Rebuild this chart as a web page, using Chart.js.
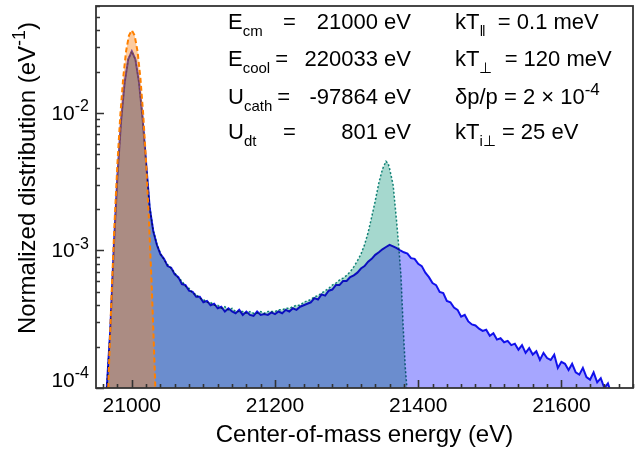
<!DOCTYPE html>
<html>
<head>
<meta charset="utf-8">
<script src="https://cdn.jsdelivr.net/npm/chart.js@4.4.1/dist/chart.umd.min.js"></script>
<style>
html, body { margin: 0; padding: 0; background: #fff; }
#wrap { position: relative; width: 636px; height: 451px; }
</style>
</head>
<body>
<div id="wrap"><canvas id="chart" width="636" height="451"></canvas></div>
<script>
const FONT = "'Liberation Sans', Arial, sans-serif";

const xTicks = [21000, 21200, 21400, 21600];
const yTicks = [1e-4, 1e-3, 1e-2];
const yTickExp = ['-4', '-3', '-2'];

// narrow reference peak (dashed orange)
const orangeEnergy = [20964, 20968, 20972, 20976, 20980, 20984, 20988, 20992, 20996, 21000,
    21004, 21008, 21012, 21016, 21020, 21024, 21028, 21032, 21036];
const orangeValue = [0.00003, 0.000138, 0.00052, 0.00164, 0.00436, 0.0097, 0.018, 0.0281, 0.0366, 0.040,
    0.0366, 0.0281, 0.018, 0.0097, 0.00436, 0.00164, 0.00052, 0.000138, 0.00003];

// model with sharp second peak (dotted teal)
const tealEnergy = [20965, 20970, 20975, 20980, 20985, 20990, 20995, 21000, 21005, 21010,
    21015, 21020, 21025, 21030, 21035, 21040, 21045, 21050, 21055, 21060,
    21065, 21070, 21075, 21080, 21085, 21090, 21095, 21100, 21105, 21110,
    21115, 21120, 21125, 21130, 21135, 21140, 21145, 21150, 21155, 21160,
    21165, 21170, 21175, 21180, 21185, 21190, 21195, 21200, 21205, 21210,
    21215, 21220, 21225, 21230, 21235, 21240, 21245, 21250, 21255, 21260,
    21265, 21270, 21275, 21280, 21285, 21290, 21295, 21300, 21305, 21310,
    21315, 21320, 21325, 21330, 21335, 21340, 21345, 21350, 21355, 21358,
    21360, 21365, 21370, 21373, 21376, 21379, 21382, 21385];
const tealValue = [0.0001, 0.00027, 0.00108, 0.0035, 0.0087, 0.0166, 0.0246, 0.0281, 0.0246, 0.0168,
    0.0092, 0.0043, 0.00208, 0.0014, 0.00112, 0.00095, 0.00086, 0.00079, 0.00074, 0.00069,
    0.00063, 0.0006, 0.00055, 0.00053, 0.00049, 0.00048, 0.00045, 0.00044, 0.00042, 0.00042,
    0.0004, 0.0004, 0.00038, 0.00039, 0.00037, 0.00038, 0.00036, 0.00036, 0.00036, 0.00035,
    0.00036, 0.00035, 0.00035, 0.00036, 0.00035, 0.00036, 0.00036, 0.00036, 0.00037, 0.00037,
    0.00038, 0.00038, 0.00039, 0.0004, 0.0004, 0.00042, 0.00043, 0.00044, 0.00046, 0.00047,
    0.00049, 0.00051, 0.00053, 0.00056, 0.00058, 0.00061, 0.00063, 0.00066, 0.0007, 0.00076,
    0.00084, 0.00094, 0.0011, 0.00135, 0.00175, 0.0023, 0.0031, 0.0039, 0.00445, 0.0043,
    0.00395, 0.003, 0.0016, 0.00105, 0.00065, 0.00028, 0.00014, 0.00009];

// simulated distribution (solid blue)
const blueEnergy = [20965, 20970, 20975, 20980, 20985, 20990, 20995, 21000, 21005, 21010,
    21015, 21020, 21025, 21030, 21035, 21040, 21045, 21050, 21055, 21060,
    21065, 21070, 21075, 21080, 21085, 21090, 21095, 21100, 21105, 21110,
    21115, 21120, 21125, 21130, 21135, 21140, 21145, 21150, 21155, 21160,
    21165, 21170, 21175, 21180, 21185, 21190, 21195, 21200, 21205, 21210,
    21215, 21220, 21225, 21230, 21235, 21240, 21245, 21250, 21255, 21260,
    21265, 21270, 21275, 21280, 21285, 21290, 21295, 21300, 21305, 21310,
    21315, 21320, 21325, 21330, 21335, 21340, 21345, 21350, 21355, 21360,
    21365, 21370, 21375, 21380, 21385, 21390, 21395, 21400, 21405, 21410,
    21415, 21420, 21425, 21430, 21435, 21440, 21445, 21450, 21455, 21460,
    21465, 21470, 21475, 21480, 21485, 21490, 21495, 21500, 21505, 21510,
    21515, 21520, 21525, 21530, 21535, 21540, 21545, 21550, 21555, 21560,
    21565, 21570, 21575, 21580, 21585, 21590, 21595, 21600, 21605, 21610,
    21615, 21620, 21625, 21630, 21635, 21640, 21645, 21650, 21655, 21660,
    21665, 21670];
const blueValue = [0.0001, 0.00027, 0.00108, 0.0035, 0.0087, 0.0166, 0.0246, 0.0281, 0.0246, 0.0168,
    0.0092, 0.0043, 0.00205, 0.00138, 0.0011, 0.00094, 0.00087, 0.00077, 0.00075, 0.00067,
    0.00064, 0.00057, 0.00056, 0.00051, 0.0005, 0.00046, 0.00046, 0.00042, 0.00043, 0.0004,
    0.00041, 0.00038, 0.00039, 0.00036, 0.00038, 0.00036, 0.00035, 0.00037, 0.00034, 0.00036,
    0.00034, 0.000335, 0.00036, 0.00034, 0.000345, 0.00034, 0.000355, 0.000345, 0.00036, 0.00035,
    0.00037, 0.00036, 0.00038, 0.00037, 0.00039, 0.0004, 0.00041, 0.00042, 0.00045, 0.00044,
    0.00048, 0.00047, 0.00051, 0.00052, 0.00056, 0.00056, 0.0006, 0.0006, 0.00064, 0.00066,
    0.00069, 0.00074, 0.00077, 0.00083, 0.00087, 0.00093, 0.00097, 0.00102, 0.00106, 0.0011,
    0.00107, 0.00104, 0.001, 0.00097, 0.00095, 0.00088, 0.00087, 0.0008, 0.00077, 0.00069,
    0.00064, 0.00058, 0.00056, 0.0005, 0.00049, 0.00043, 0.00042, 0.000385, 0.00037, 0.00033,
    0.00034, 0.000305, 0.00029, 0.000285, 0.00027, 0.00026, 0.000265, 0.00024, 0.00025, 0.000225,
    0.00023, 0.000215, 0.00022, 0.000205, 0.00021, 0.00019, 0.000205, 0.00018, 0.000195, 0.000175,
    0.000185, 0.00016, 0.00018, 0.000165, 0.00016, 0.000175, 0.00014, 0.000155, 0.00015, 0.000135,
    0.00015, 0.00013, 0.000125, 0.00014, 0.00012, 0.000115, 0.00013, 0.00011, 0.000118, 0.0001,
    0.000108, 0.00009];

// parameter box, [text, 'sub' | 'sup' | '']
const leftNotes = [
    { label: [['E', ''], ['cm', 'sub']], eq: 'fixed', value: '21000 eV' },
    { label: [['E', ''], ['cool', 'sub']], eq: 'after', value: '220033 eV' },
    { label: [['U', ''], ['cath', 'sub']], eq: 'after', value: '-97864 eV' },
    { label: [['U', ''], ['dt', 'sub']], eq: 'fixed', value: '801 eV' },
];
const rightNotes = [
    [['kT', ''], ['\u2016', 'sub'], ['  = 0.1 meV', '']],
    [['kT', ''], ['\u22A5', 'sub'], ['  = 120 meV', '']],
    [['\u03B4p/p = 2 \u00D7 10', ''], ['-4', 'sup']],
    [['kT', ''], ['i\u22A5', 'sub'], [' = 25 eV', '']],
];
const noteBaselines = [29, 66, 104, 139];

function points(xs, ys) {
    return xs.map((x, i) => ({ x, y: ys[i] }));
}

function partSize(mode, size) {
    if (mode === 'sub') return Math.round(size * 0.7);
    if (mode === 'sup') return Math.round(size * 0.75);
    return size;
}

function richText(ctx, x, y, parts, size) {
    for (const [t, mode] of parts) {
        const dy = mode === 'sub' ? size * 0.3 : mode === 'sup' ? -size * 0.42 : 0;
        ctx.font = `${partSize(mode, size)}px ${FONT}`;
        ctx.fillText(t, x, y + dy);
        x += ctx.measureText(t).width;
    }
    return x;
}

function richWidth(ctx, parts, size) {
    let w = 0;
    for (const [t, mode] of parts) {
        ctx.font = `${partSize(mode, size)}px ${FONT}`;
        w += ctx.measureText(t).width;
    }
    return w;
}

const frameAndTicks = {
    id: 'frameAndTicks',
    beforeDraw(chart) {
        const ctx = chart.ctx;
        ctx.save();
        ctx.fillStyle = '#fff';
        ctx.fillRect(0, 0, chart.width, chart.height);
        ctx.restore();
    },
    beforeDatasetsDraw(chart) {
        // blue and teal fills blend where they overlap
        chart.ctx.globalCompositeOperation = 'multiply';
    },
    afterDatasetDraw(chart, args) {
        // orange (index 0) is drawn last, normally
        if (args.index === 1) chart.ctx.globalCompositeOperation = 'source-over';
    },
    afterDatasetsDraw(chart) {
        chart.ctx.globalCompositeOperation = 'source-over';
    },
    afterDraw(chart) {
        const ctx = chart.ctx;
        const { left, right, top, bottom } = chart.chartArea;
        const xs = chart.scales.x;
        const ys = chart.scales.y;
        ctx.save();
        ctx.strokeStyle = '#333';
        ctx.lineWidth = 1.6;

        // x ticks pointing inward
        ctx.beginPath();
        for (let v = 20960; v <= 21700; v += 20) {
            const px = Math.round(xs.getPixelForValue(v)) + 0.5;
            const len = xTicks.includes(v) ? 8 : 4;
            ctx.moveTo(px, bottom);
            ctx.lineTo(px, bottom - len);
        }
        // y ticks pointing inward
        for (let d = -4; d <= -2; d++) {
            for (let m = 1; m <= 9; m++) {
                const v = m * Math.pow(10, d);
                if (v > ys.max) break;
                const py = Math.round(ys.getPixelForValue(v)) + 0.5;
                const len = m === 1 ? 8 : 4;
                ctx.moveTo(left, py);
                ctx.lineTo(left + len, py);
            }
        }
        ctx.stroke();

        ctx.lineWidth = 1.8;
        ctx.strokeRect(left, top, right - left, bottom - top);

        // y tick labels with superscript
        ctx.fillStyle = '#000';
        ctx.textBaseline = 'alphabetic';
        yTicks.forEach((v, i) => {
            const parts = [['10', ''], [yTickExp[i], 'sup']];
            const w = richWidth(ctx, parts, 21);
            let base = ys.getPixelForValue(v) + 7;
            if (base > bottom - 1) base = bottom - 1;
            richText(ctx, 89 - w, base, parts, 21);
        });

        // y axis title
        ctx.save();
        ctx.translate(35, 178);
        ctx.rotate(-Math.PI / 2);
        const yTitle = [['Normalized distribution (eV', ''], ['-1', 'sup'], [')', '']];
        const tw = richWidth(ctx, yTitle, 24);
        richText(ctx, -tw / 2, 0, yTitle, 24);
        ctx.restore();

        // parameter box
        leftNotes.forEach((n, i) => {
            const y = noteBaselines[i];
            const endX = richText(ctx, 228, y, n.label, 22);
            ctx.font = `22px ${FONT}`;
            const eqX = n.eq === 'fixed' ? 283 : endX + 5;
            ctx.fillText('=', eqX, y);
            ctx.textAlign = 'right';
            ctx.fillText(n.value, 411, y);
            ctx.textAlign = 'left';
        });
        rightNotes.forEach((parts, i) => {
            richText(ctx, 455, noteBaselines[i], parts, 22);
        });
        ctx.restore();
    },
};

new Chart(document.getElementById('chart'), {
    type: 'line',
    data: {
        datasets: [
            {
                label: 'orange',
                data: points(orangeEnergy, orangeValue),
                borderColor: 'rgb(255, 128, 0)',
                backgroundColor: 'rgba(250, 140, 40, 0.45)',
                borderWidth: 2,
                borderDash: [5, 3],
                fill: 'start',
                pointRadius: 0,
            },
            {
                label: 'teal',
                data: points(tealEnergy, tealValue),
                borderColor: 'rgb(20, 140, 130)',
                backgroundColor: 'rgb(165, 216, 206)',
                borderWidth: 1.5,
                borderDash: [2, 2],
                fill: 'start',
                pointRadius: 0,
            },
            {
                label: 'blue',
                data: points(blueEnergy, blueValue),
                borderColor: 'rgb(20, 20, 235)',
                backgroundColor: 'rgb(166, 166, 255)',
                borderWidth: 2,
                fill: 'start',
                pointRadius: 0,
            },
        ],
    },
    options: {
        responsive: false,
        animation: false,
        events: [],
        layout: { padding: { left: 0, right: 3, top: 6, bottom: 0 } },
        plugins: { legend: { display: false }, tooltip: { enabled: false } },
        scales: {
            x: {
                type: 'linear',
                min: 20950,
                max: 21700,
                grid: { display: false, drawTicks: false },
                border: { display: false },
                afterBuildTicks: (scale) => { scale.ticks = xTicks.map((v) => ({ value: v })); },
                afterFit: (scale) => { scale.height = 63; },
                ticks: {
                    color: '#000',
                    padding: 6,
                    maxRotation: 0,
                    font: { family: FONT, size: 21 },
                    callback: (v) => String(v),
                },
                title: {
                    display: true,
                    text: 'Center-of-mass energy (eV)',
                    color: '#000',
                    font: { family: FONT, size: 24 },
                    padding: { top: 2, bottom: 1 },
                },
            },
            y: {
                type: 'logarithmic',
                min: 1e-4,
                max: 0.06,
                grid: { display: false, drawTicks: false },
                border: { display: false },
                afterBuildTicks: (scale) => { scale.ticks = yTicks.map((v) => ({ value: v })); },
                afterFit: (scale) => { scale.width = 96; },
                ticks: { display: false },
            },
        },
    },
    plugins: [frameAndTicks],
});
</script>
</body>
</html>
